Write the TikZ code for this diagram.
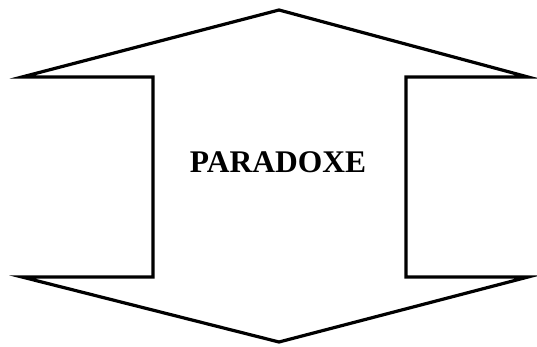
\documentclass[tikz,border=0pt]{standalone}
\usepackage{fontspec}
\setmainfont{Liberation Serif}
\usetikzlibrary{positioning}

\begin{document}
\begin{tikzpicture}[x=1pt,y=-1pt]
\useasboundingbox (0,0) rectangle (537,347);
\draw[line width=3.2pt,line join=miter]
  (279,10) -- (528,77) -- (406,77) -- (406,277) -- (528,277)
  -- (279,342) -- (22,277) -- (153,277) -- (153,77) -- (22,77) -- cycle;
\node[font=\bfseries\fontsize{31.5}{36}\selectfont] (title) at (278,162) {PARADOXE};
\end{tikzpicture}
\end{document}
